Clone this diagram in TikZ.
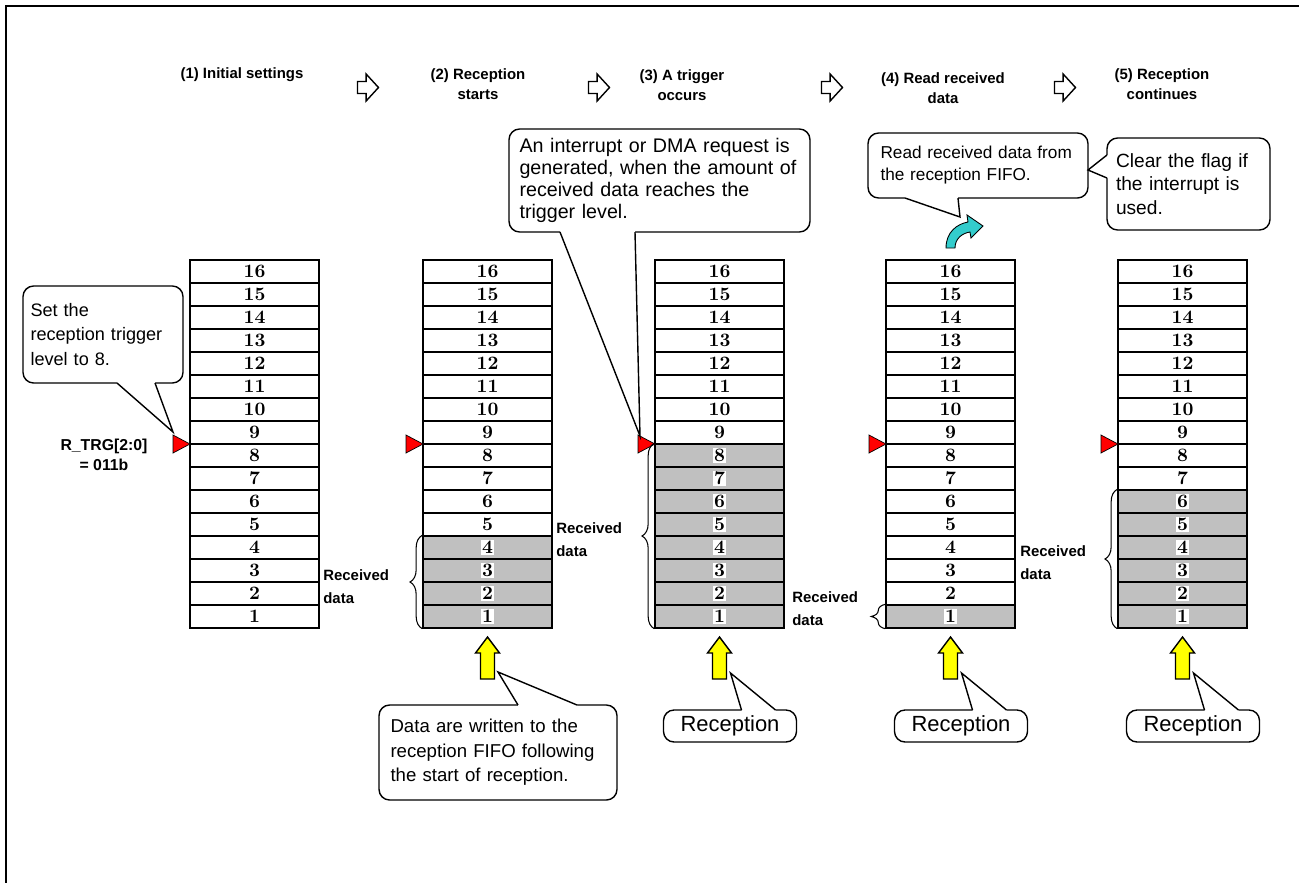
\documentclass[tikz,border=0pt]{standalone}
\usepackage{fontspec}
\setsansfont{Liberation Sans}
\usetikzlibrary{calc, decorations.pathreplacing}
\definecolor{fifogray}{HTML}{C0C0C0}
\definecolor{trgred}{HTML}{FF0000}
\definecolor{rxyellow}{HTML}{FFFF00}
\definecolor{rdteal}{HTML}{33CCCC}

\begin{document}
\begin{tikzpicture}[x=0.02cm, y=-0.02cm,
  cell/.style={rectangle, draw=black, line width=0.8pt, minimum width=2.58cm,
    minimum height=0.46cm, inner sep=0pt},
  num/.style={fill=white, inner sep=0.5pt, font=\fontsize{10.8}{10.8}\selectfont\bfseries},
  hdr/.style={align=center, inner sep=0pt,
    font=\sffamily\bfseries\fontsize{8.5}{11.4}\selectfont},
  rlab/.style={anchor=west, align=left, inner sep=0pt,
    font=\sffamily\bfseries\fontsize{8.5}{13}\selectfont},
  cbox/.style={rectangle, rounded corners=6pt, draw=black, line width=0.8pt,
    fill=white, inner sep=0pt, align=left},
  cptr/.style={draw=black, line width=0.8pt},
  hollow/.style={draw=black, line width=0.8pt, fill=white},
  trg/.style={draw=black, line width=0.4pt, fill=trgred},
  rxarr/.style={draw=black, line width=0.8pt, fill=rxyellow},
  brc/.style={decorate, decoration={brace, amplitude=7pt}, line width=0.6pt},
]
\useasboundingbox (0,0) rectangle (1299,883);

% Frame
\draw[line width=1.2pt] (1299,6) -- (6,6) -- (6,883);

% Steps
\node[hdr] (h1) at (242,75) {(1) Initial settings};
\node[hdr] (h2) at (478,84) {(2) Reception\\starts};
\node[hdr] (h3) at (682,85) {(3) A trigger\\occurs};
\node[hdr] (h4) at (943,88) {(4) Read received\\data};
\node[hdr] (h5) at (1162,84) {(5) Reception\\continues};
\foreach \ax in {368,599,832,1065}
  \filldraw[hollow] (\ax-10.5,81.5) -- (\ax-1.9,81.5) -- (\ax-1.9,74)
    -- (\ax+10.5,87.5) -- (\ax-1.9,101) -- (\ax-1.9,93.5) -- (\ax-10.5,93.5) -- cycle;

% FIFOs
\foreach \col/\x/\n in {1/190/0, 2/423/4, 3/655/8, 4/886/1, 5/1118/6} {
  \foreach \r in {1,...,16} {
    \ifnum\r>\n \def\cfill{white}\else\def\cfill{fifogray}\fi
    \node[cell, fill=\cfill] (c\col-\r) at (\x+64.5, 639.5-23*\r) {};
    \node[num] (n\col-\r) at (c\col-\r) {\r};
  }
  \filldraw[trg] (\x-17,435) -- (\x-17,453) -- (\x,444) -- cycle;
}

\node[hdr, font=\sffamily\bfseries\fontsize{9}{11.4}\selectfont] (rtrg) at (104,455)
  {R\_TRG[2:0]\\= 011b};

% Received data
\draw[brc] (c2-1.south west) -- (c2-4.north west);
\draw[brc] (c3-1.south west) -- (c3-8.north west);
\draw[brc, decoration={brace, amplitude=8pt}] (c4-1.south west) -- (c4-1.north west);
\draw[brc] (c5-1.south west) -- (c5-6.north west);
\node[rlab] (rd2) at (323,586.5) {Received\\data};
\node[rlab] (rd3) at (556,539.5) {Received\\data};
\node[rlab] (rd4) at (792,609) {Received\\data};
\node[rlab] (rd5) at (1020,562.5) {Received\\data};

% Reception arrows
\foreach \cx in {487.5,719.5,950.5,1182.5}
  \filldraw[rxarr] (\cx,637) -- (\cx+12,653) -- (\cx+7,653) -- (\cx+7,679)
    -- (\cx-7,679) -- (\cx-7,653) -- (\cx-12,653) -- cycle;

% Read arrow
\filldraw[draw=black, line width=0.5pt, fill=rdteal] (946,248)
  .. controls (946,232) and (957,224) .. (968,222) -- (967,215) -- (983,226)
  -- (971,238) -- (970,232) .. controls (963,233) and (955,238) .. (955,248) -- cycle;

% Callouts
\node[cbox, minimum width=3.2cm, minimum height=1.94cm, text width=2.9cm,
  font=\sffamily\fontsize{10.3}{14}\selectfont] (setlvl) at (103,334.5)
  {Set the\\reception trigger\\level to 8.};
\fill[white] (117,379) -- (117,383) -- (173,432) -- (155,383) -- (155,379) -- cycle;
\draw[cptr] (117,383) -- (173,432) -- (155,383);

\node[cbox, minimum width=6.02cm, minimum height=2.06cm, text width=5.6cm,
  font=\sffamily\fontsize{11.2}{12.5}\selectfont] (irq) at (659.5,180.5)
  {An interrupt or DMA request is\\generated, when the amount of\\received data reaches the\\trigger level.};
\fill[white] (560,228) -- (560,232) -- (640,436) -- (635,232) -- (635,228) -- cycle;
\draw[cptr] (560,232) -- (640,436) -- (635,232);

\node[cbox, minimum width=4.4cm, minimum height=1.3cm, text width=3.9cm,
  font=\sffamily\fontsize{9.8}{12.5}\selectfont] (rdfifo) at (978,165.5)
  {Read received data from\\the reception FIFO.};
\fill[white] (905,194) -- (905,198) -- (960,217) -- (958,198) -- (958,194) -- cycle;
\draw[cptr] (905,198) -- (960,217) -- (958,198);

\node[cbox, minimum width=3.26cm, minimum height=1.84cm, text width=2.9cm,
  font=\sffamily\fontsize{10.9}{13.5}\selectfont] (clrflag) at (1188.5,184)
  {Clear the flag if\\the interrupt is\\used.};
\fill[white] (1111,155) -- (1107,155) -- (1088,170) -- (1107,178) -- (1111,178) -- cycle;
\draw[cptr] (1107,155) -- (1088,170) -- (1107,178);

\node[cbox, minimum width=4.76cm, minimum height=1.9cm, text width=4.3cm,
  font=\sffamily\fontsize{10.6}{14}\selectfont] (wrfifo) at (498,752.5)
  {Data are written to the\\reception FIFO following\\the start of reception.};
\fill[white] (518,709) -- (518,705) -- (498,672) -- (577,705) -- (577,709) -- cycle;
\draw[cptr] (518,705) -- (498,672) -- (577,705);

\foreach \col/\cx in {3/719.5, 4/950.5, 5/1182.5} {
  \node[cbox, align=center, minimum width=2.66cm, minimum height=0.64cm,
    font=\sffamily\fontsize{12.5}{14}\selectfont] (rx\col) at (\cx+10.5,726) {Reception};
  \fill[white] (\cx+22,714) -- (\cx+22,710) -- (\cx+11,673) -- (\cx+56,710) -- (\cx+56,714) -- cycle;
  \draw[cptr] (\cx+22,710) -- (\cx+11,673) -- (\cx+56,710);
}
\end{tikzpicture}
\end{document}
